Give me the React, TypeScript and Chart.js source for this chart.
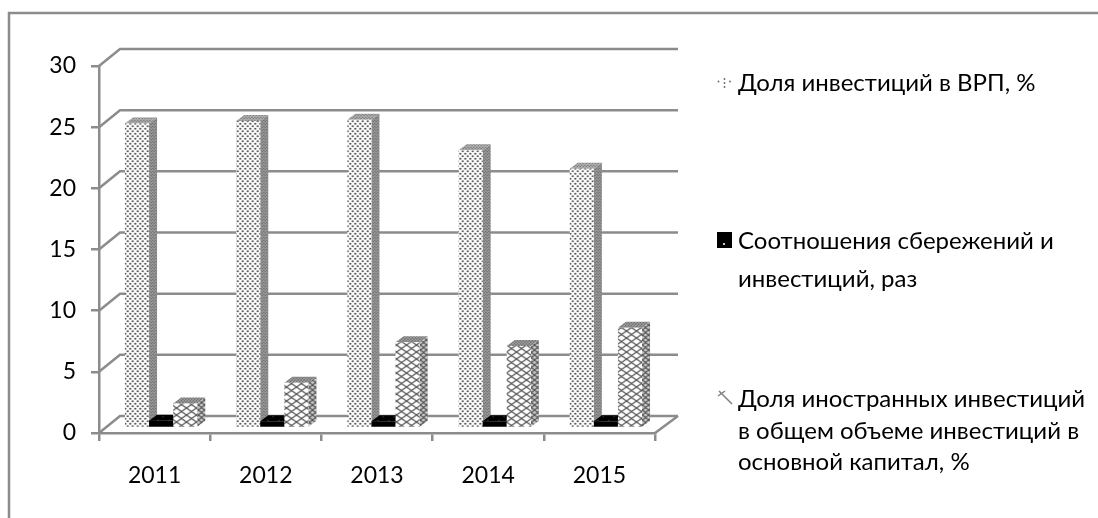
import React, { useEffect, useRef } from "react";
import { Chart, registerables } from "chart.js";

Chart.register(...registerables);

const years = ["2011", "2012", "2013", "2014", "2015"];
const investmentShare = [24.9, 25.1, 25.2, 22.7, 21.2];
const savingsRatio = [0.6, 0.55, 0.55, 0.55, 0.55];
const foreignShare = [2.0, 3.7, 7.0, 6.7, 8.2];
const seriesNames = [
  "Доля инвестиций в ВРП, %",
  "Соотношения сбережений и инвестиций, раз",
  "Доля иностранных инвестиций в общем объеме инвестиций в основной капитал, %",
];
const legendLines = [
  ["Доля инвестиций в ВРП, %"],
  ["Соотношения сбережений и", "инвестиций, раз"],
  ["Доля иностранных инвестиций", "в общем объеме инвестиций в", "основной капитал, %"],
];
const legendBaselines = [[91], [249, 287], [407, 439, 470]];

const GREY = "#8c8c8c";
const FONT = "Lato";
const LEGEND_SIZE = 24;
const TICK_SIZE = 23;
const AREA = { left: 99, right: 655, top: 66, bottom: 433 };
const WALL = { dx: 21, dy: 17 };
const BAR_SHIFT = { dx: 6.5, dy: 5 };
const BAR_DEPTH = { dx: 8, dy: 6 };

function tile(w: number, h: number, draw: (c: CanvasRenderingContext2D) => void): CanvasPattern {
  const cv = document.createElement("canvas");
  cv.width = w;
  cv.height = h;
  const c = cv.getContext("2d") as CanvasRenderingContext2D;
  draw(c);
  return c.createPattern(cv, "repeat") as CanvasPattern;
}

function dots(bg: string, fg: string, w: number, h: number, r: number) {
  return tile(w, h, (c) => {
    c.fillStyle = bg;
    c.fillRect(0, 0, w, h);
    c.fillStyle = fg;
    [[w * 0.25, h * 0.25], [w * 0.75, h * 0.75]].forEach(([x, y]) => {
      c.beginPath();
      c.arc(x, y, r, 0, Math.PI * 2);
      c.fill();
    });
  });
}

function lattice(bg: string, fg: string, w: number, h: number, lw: number) {
  return tile(w, h, (c) => {
    c.fillStyle = bg;
    c.fillRect(0, 0, w, h);
    c.strokeStyle = fg;
    c.lineWidth = lw;
    c.beginPath();
    c.moveTo(0, 0);
    c.lineTo(w, h);
    c.moveTo(w, 0);
    c.lineTo(0, h);
    c.stroke();
  });
}

export default function App() {
  const ref = useRef<HTMLCanvasElement>(null);
  useEffect(() => {
    const canvas = ref.current as HTMLCanvasElement;
    const faces = [
      {
        front: dots("#ffffff", "#333333", 5, 5, 0.95),
        side: dots("#a8a8a8", "#5e5e5e", 3, 3, 0.8),
        top: dots("#c4c4c4", "#666666", 3, 3, 0.8),
      },
      {
        front: dots("#000000", "#000000", 5, 6, 0.8),
        side: "#000000",
        top: dots("#000000", "#8a8a8a", 11, 7, 0.5),
      },
      {
        front: lattice("#ffffff", "#5a5a5a", 10, 7, 1.3),
        side: lattice("#c8c8c8", "#555555", 6, 5, 1.2),
        top: dots("#b8b8b8", "#606060", 3, 3, 0.9),
      },
    ];

    const scene = {
      id: "scene",
      beforeDraw(chart: Chart) {
        const ctx = chart.ctx;
        ctx.save();
        ctx.fillStyle = "#ffffff";
        ctx.fillRect(0, 0, chart.width, chart.height);
        ctx.strokeStyle = GREY;
        ctx.lineWidth = 2.5;
        ctx.beginPath();
        ctx.moveTo(9, chart.height);
        ctx.lineTo(9, 13);
        ctx.lineTo(chart.width, 13);
        ctx.stroke();
        ctx.restore();
      },
      beforeDatasetsDraw(chart: Chart) {
        const ctx = chart.ctx;
        const { left, right } = chart.chartArea;
        const y = chart.scales.y;
        ctx.save();
        ctx.strokeStyle = GREY;
        ctx.lineWidth = 2.5;
        y.ticks.forEach((t: any) => {
          const py = y.getPixelForValue(t.value);
          ctx.beginPath();
          ctx.moveTo(left, py);
          ctx.lineTo(left + WALL.dx, py - WALL.dy);
          ctx.lineTo(right + WALL.dx + 2, py - WALL.dy);
          ctx.stroke();
        });
        const p0 = y.getPixelForValue(0);
        ctx.beginPath();
        ctx.moveTo(right, p0);
        ctx.lineTo(right + WALL.dx + 2, p0 - WALL.dy);
        ctx.stroke();
        ctx.translate(BAR_SHIFT.dx, -BAR_SHIFT.dy);
        faces.forEach((f, i) => {
          chart.getDatasetMeta(i).data.forEach((bar: any) => {
            const l = bar.x - bar.width / 2;
            const r = bar.x + bar.width / 2;
            ctx.fillStyle = f.side;
            ctx.beginPath();
            ctx.moveTo(r, bar.y);
            ctx.lineTo(r + BAR_DEPTH.dx, bar.y - BAR_DEPTH.dy);
            ctx.lineTo(r + BAR_DEPTH.dx, bar.base - BAR_DEPTH.dy);
            ctx.lineTo(r, bar.base);
            ctx.closePath();
            ctx.fill();
            ctx.fillStyle = f.top;
            ctx.beginPath();
            ctx.moveTo(l, bar.y);
            ctx.lineTo(l + BAR_DEPTH.dx, bar.y - BAR_DEPTH.dy);
            ctx.lineTo(r + BAR_DEPTH.dx, bar.y - BAR_DEPTH.dy);
            ctx.lineTo(r, bar.y);
            ctx.closePath();
            ctx.fill();
            bar.draw(ctx);
          });
        });
        ctx.restore();
        return false;
      },
      afterDraw(chart: Chart) {
        const ctx = chart.ctx;
        ctx.save();
        ctx.fillStyle = "#000000";
        ctx.font = `${LEGEND_SIZE}px ${FONT}`;
        ctx.textBaseline = "alphabetic";
        legendLines.forEach((lines, i) => {
          lines.forEach((s, j) => ctx.fillText(s, 738, legendBaselines[i][j]));
        });
        // legend keys
        ctx.fillStyle = "#666666";
        [[718.5, 81.5], [724.5, 79], [730, 81.5], [724.5, 87], [724.5, 83]].forEach(([x, yy]) => {
          ctx.beginPath();
          ctx.arc(x, yy, 0.9, 0, Math.PI * 2);
          ctx.fill();
        });
        ctx.fillStyle = "#000000";
        ctx.fillRect(717, 232, 15, 16);
        ctx.fillStyle = "#cccccc";
        ctx.fillRect(723, 243, 2, 2);
        ctx.strokeStyle = "#808080";
        ctx.lineWidth = 1.5;
        ctx.beginPath();
        ctx.moveTo(719, 391);
        ctx.lineTo(732, 404);
        ctx.moveTo(718, 396);
        ctx.lineTo(725, 391);
        ctx.stroke();
        ctx.restore();
      },
    };

    const chart = new Chart(canvas, {
      type: "bar",
      data: {
        labels: years,
        datasets: [investmentShare, savingsRatio, foreignShare].map((data, i) => ({
          label: seriesNames[i],
          data,
          backgroundColor: faces[i].front as any,
          borderWidth: 0,
          barPercentage: 1,
          categoryPercentage: 0.65,
        })),
      },
      options: {
        responsive: false,
        animation: false,
        layout: {
          autoPadding: false,
          padding: { left: 0, top: AREA.top, right: 1098 - AREA.right, bottom: 0 },
        },
        plugins: { legend: { display: false }, tooltip: { enabled: false }, title: { display: false } },
        scales: {
          x: {
            grid: { display: true, drawOnChartArea: false, color: GREY, lineWidth: 2.5, tickLength: 8, offset: true },
            border: { display: true, color: GREY, width: 2.5 },
            ticks: { color: "#000000", font: { family: FONT, size: TICK_SIZE }, padding: 21, maxRotation: 0 },
            afterFit: (s: any) => {
              s.height = 518 - AREA.bottom;
            },
          },
          y: {
            min: 0,
            max: 30,
            grid: { display: true, drawOnChartArea: false, color: GREY, lineWidth: 2.5, tickLength: 8 },
            border: { display: true, color: GREY, width: 2.5 },
            ticks: { stepSize: 5, color: "#000000", font: { family: FONT, size: TICK_SIZE }, padding: 15 },
            afterFit: (s: any) => {
              s.width = AREA.left;
            },
          },
        },
      },
      plugins: [scene],
    });
    return () => chart.destroy();
  }, []);
  return (
    <div style={{ position: "fixed", left: 0, top: 0, width: 1098, height: 518, background: "#fff" }}>
      <canvas ref={ref} width={1098} height={518} style={{ display: "block" }} />
    </div>
  );
}
